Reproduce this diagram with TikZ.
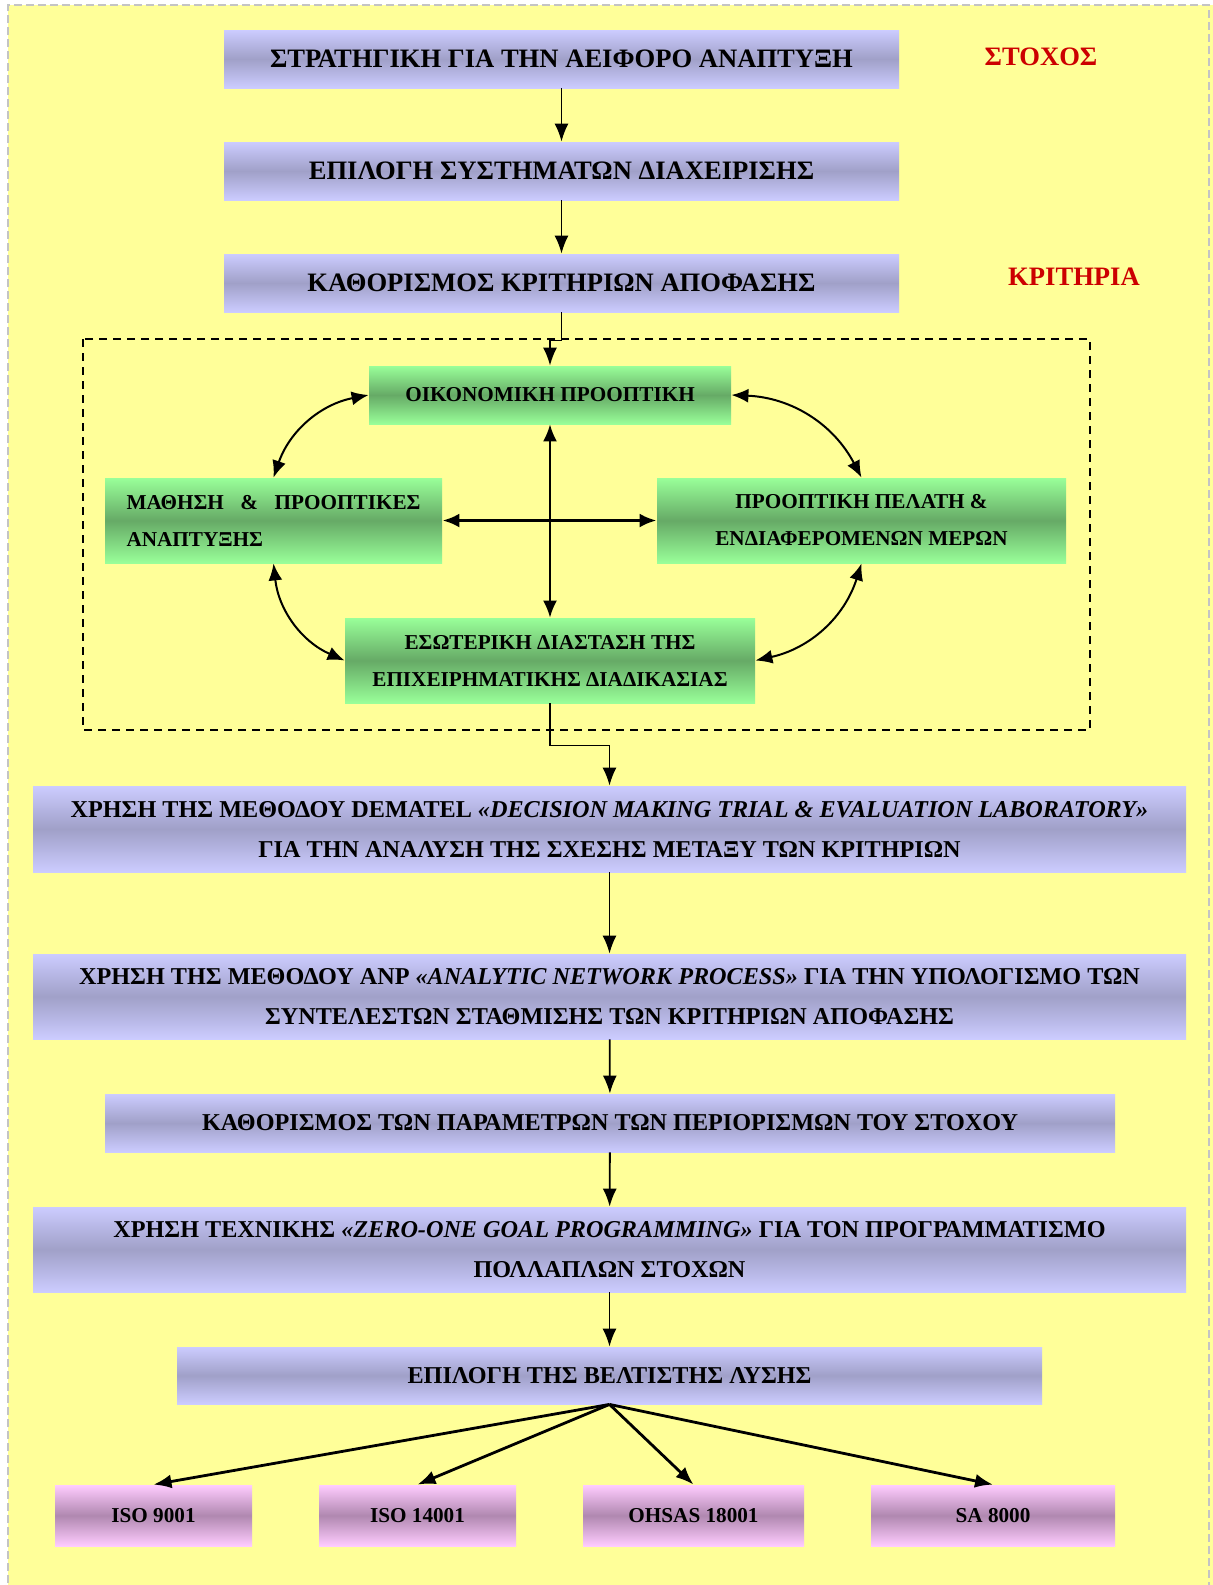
\documentclass[tikz,border=0pt]{standalone}
\usepackage{fontspec}
\setmainfont{Liberation Serif}
\usetikzlibrary{arrows.meta,positioning,calc}
\definecolor{bgyellow} {HTML}{FFFF99}
\definecolor{framegray}{HTML}{C4C4C4}
\definecolor{lavlight} {HTML}{CCCCFF}
\definecolor{lavdark}  {HTML}{A0A0C8}
\definecolor{grnlight} {HTML}{99FF99}
\definecolor{grndark}  {HTML}{66AA66}
\definecolor{pnklight} {HTML}{FFCCFF}
\definecolor{pnkdark}  {HTML}{B088B0}
\definecolor{goalred}  {HTML}{CC0000}

\begin{document}
\begin{tikzpicture}[x=0.5pt,y=0.5pt,
    bluebox/.style={rectangle,inner sep=0pt,align=center,
      top color=lavlight,bottom color=lavlight,middle color=lavdark,
      font=\bfseries\fontsize{13.3}{20}\selectfont},
    widebox/.style={bluebox,font=\bfseries\fontsize{12.1}{20}\selectfont},
    greenbox/.style={rectangle,inner sep=0pt,align=center,
      top color=grnlight,bottom color=grnlight,middle color=grndark,
      font=\bfseries\fontsize{10.6}{18.5}\selectfont},
    pinkbox/.style={rectangle,inner sep=0pt,minimum height=30.5pt,
      top color=pnklight,bottom color=pnklight,middle color=pnkdark,
      font=\bfseries\fontsize{10.6}{13}\selectfont},
    goal/.style={text=goalred,font=\bfseries\fontsize{13.3}{15}\selectfont},
    flow/.style={-{Latex[length=9pt,width=7pt]},line width=0.9pt},
    dflow/.style={{Latex[length=8.5pt,width=7pt]}-{Latex[length=8.5pt,width=7pt]},line width=1pt},
    fan/.style={-{Latex[length=9pt,width=7pt]},line width=1.4pt}]
  \useasboundingbox (0,0) rectangle (1212,-1585);
  % page background
  \fill[bgyellow] (8,-5) rectangle (1220,-1595);
  \draw[framegray,line width=0.6pt,dash pattern=on 4pt off 2pt] (8,-1595) -- (8,-5) -- (1209,-5) -- (1209,-1595);

  % upper column
  \node[bluebox,minimum width=337.5pt,minimum height=29pt] (strat) at (561.5,-59)
    {ΣΤΡΑΤΗΓΙΚΗ ΓΙΑ ΤΗΝ ΑΕΙΦΟΡΟ ΑΝΑΠΤΥΞΗ};
  \node[bluebox,minimum width=337.5pt,minimum height=29pt] (epilogi) at (561.5,-171)
    {ΕΠΙΛΟΓΗ ΣΥΣΤΗΜΑΤΩΝ ΔΙΑΧΕΙΡΙΣΗΣ};
  \node[bluebox,minimum width=337.5pt,minimum height=29pt] (kritiria) at (561.5,-283)
    {ΚΑΘΟΡΙΣΜΟΣ ΚΡΙΤΗΡΙΩΝ ΑΠΟΦΑΣΗΣ};
  \node[goal] (stoxos) at (1041,-57) {ΣΤΟΧΟΣ};
  \node[goal] (kritlbl) at (1074,-277) {ΚΡΙΤΗΡΙΑ};

  \draw[flow] (strat) -- (epilogi);
  \draw[flow] (epilogi) -- (kritiria);

  % the four perspectives
  \draw[line width=1pt,dash pattern=on 4pt off 3pt] (83,-339) rectangle (1090,-730);
  \node[greenbox,minimum width=181pt,minimum height=29pt] (oik) at (550,-395)
    {ΟΙΚΟΝΟΜΙΚΗ ΠΡΟΟΠΤΙΚΗ};
  \node[greenbox,minimum width=168.5pt,minimum height=42.5pt,text width=147pt,align=left] (mathisi) at (273.5,-520.5)
    {ΜΑΘΗΣΗ\hfill\&\hfill ΠΡΟΟΠΤΙΚΕΣ\\ΑΝΑΠΤΥΞΗΣ};
  \node[greenbox,minimum width=204.5pt,minimum height=42.5pt] (pelatis) at (861.5,-520.5)
    {ΠΡΟΟΠΤΙΚΗ ΠΕΛΑΤΗ \&\\ΕΝΔΙΑΦΕΡΟΜΕΝΩΝ ΜΕΡΩΝ};
  \node[greenbox,minimum width=205pt,minimum height=42.5pt] (eswt) at (550,-660.5)
    {ΕΣΩΤΕΡΙΚΗ ΔΙΑΣΤΑΣΗ ΤΗΣ\\ΕΠΙΧΕΙΡΗΜΑΤΙΚΗΣ ΔΙΑΔΙΚΑΣΙΑΣ};

  \draw[flow] (kritiria.south) -- ++(0,-28) -| (oik.north);
  \draw[dflow] (oik.west) to[bend right=30] (mathisi.north);
  \draw[dflow] (oik.east) to[bend left=30] (pelatis.north);
  \draw[dflow] (mathisi.south) to[bend right=30] (eswt.west);
  \draw[dflow] (pelatis.south) to[bend left=30] (eswt.east);
  \draw[dflow] (oik.south) -- (eswt.north);
  \draw[dflow,line width=1.6pt] (mathisi.east) -- (pelatis.west);

  % methods
  \node[widebox,minimum width=576.5pt,minimum height=43pt] (dematel) at (609.5,-829)
    {ΧΡΗΣΗ ΤΗΣ ΜΕΘΟΔΟΥ DEMATEL {\itshape «DECISION MAKING TRIAL \& EVALUATION LABORATORY»}\\
     ΓΙΑ ΤΗΝ ΑΝΑΛΥΣΗ ΤΗΣ ΣΧΕΣΗΣ ΜΕΤΑΞΥ ΤΩΝ ΚΡΙΤΗΡΙΩΝ};
  \node[widebox,minimum width=576.5pt,minimum height=42.5pt] (anp) at (609.5,-996.5)
    {ΧΡΗΣΗ ΤΗΣ ΜΕΘΟΔΟΥ ANP {\itshape «ANALYTIC NETWORK PROCESS»} ΓΙΑ ΤΗΝ ΥΠΟΛΟΓΙΣΜΟ ΤΩΝ\\
     ΣΥΝΤΕΛΕΣΤΩΝ ΣΤΑΘΜΙΣΗΣ ΤΩΝ ΚΡΙΤΗΡΙΩΝ ΑΠΟΦΑΣΗΣ};
  \node[widebox,minimum width=505pt,minimum height=29pt] (param) at (610,-1123)
    {ΚΑΘΟΡΙΣΜΟΣ ΤΩΝ ΠΑΡΑΜΕΤΡΩΝ ΤΩΝ ΠΕΡΙΟΡΙΣΜΩΝ ΤΟΥ ΣΤΟΧΟΥ};
  \node[widebox,minimum width=576.5pt,minimum height=42.5pt] (zeroone) at (609.5,-1249.5)
    {ΧΡΗΣΗ ΤΕΧΝΙΚΗΣ {\itshape «ZERO-ONE GOAL PROGRAMMING»} ΓΙΑ ΤΟΝ ΠΡΟΓΡΑΜΜΑΤΙΣΜΟ\\
     ΠΟΛΛΑΠΛΩΝ ΣΤΟΧΩΝ};
  \node[widebox,minimum width=432.5pt,minimum height=28.5pt] (veltisti) at (609.5,-1375.5)
    {ΕΠΙΛΟΓΗ ΤΗΣ ΒΕΛΤΙΣΤΗΣ ΛΥΣΗΣ};

  \draw[flow] (eswt.south) -- ++(0,-42) -| (dematel.north);
  \draw[flow] (dematel) -- (anp);
  \draw[flow] (anp) -- (param);
  \draw[flow] (param) -- (zeroone);
  \draw[flow] (zeroone) -- (veltisti);

  % standards
  \foreach \nm/\cx/\w/\txt in {iso9/153.5/98.5/ISO 9001,iso14/417.5/98.5/ISO 14001,
      ohsas/693.5/110.5/OHSAS 18001,sa/993/122/SA 8000} {
    \node[pinkbox,minimum width=\w pt] (\nm) at (\cx,-1515.5) {\txt};
    \draw[fan] (veltisti.south) -- (\nm.north);
  }
\end{tikzpicture}
\end{document}
